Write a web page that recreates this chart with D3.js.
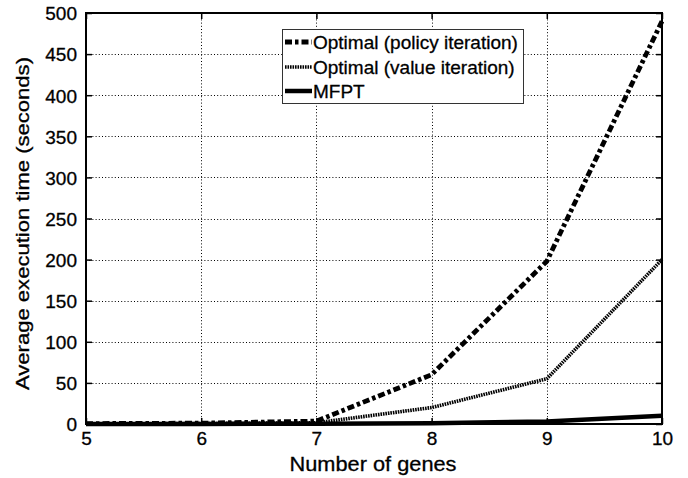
<!DOCTYPE html>
<html><head><meta charset="utf-8">
<script src="https://cdn.jsdelivr.net/npm/d3@7"></script>
<style>
html,body{margin:0;padding:0;background:#fff;}
text{font-family:"Liberation Sans",Arial,Helvetica,sans-serif;fill:#000;stroke:#000;stroke-width:0.3px;}
</style></head>
<body>
<svg id="chart" width="688" height="478"></svg>
<script>
const genes = [5, 6, 7, 8, 9, 10];
const policyIteration = [0.5, 1, 3.5, 60, 198, 490];
const valueIteration = [0.2, 0.5, 1.5, 20, 55, 200];
const mfpt = [0.05, 0.1, 0.3, 1, 3, 10];
const xTicks = [5, 6, 7, 8, 9, 10];
const yTicks = [0, 50, 100, 150, 200, 250, 300, 350, 400, 450, 500];
const seriesNames = ["Optimal (policy iteration)", "Optimal (value iteration)", "MFPT"];

const W = 688, H = 478;
const m = {left: 86, right: 26, top: 13, bottom: 54};
const svg = d3.select("#chart");
const x = d3.scaleLinear().domain([5, 10]).range([m.left, W - m.right]);
const y = d3.scaleLinear().domain([0, 500]).range([H - m.bottom, m.top]);
const x0 = m.left, x1 = W - m.right, y0 = H - m.bottom, y1 = m.top;

// grid
const grid = svg.append("g");
grid.selectAll("line.gx").data(xTicks.slice(1, -1)).join("line")
  .attr("x1", d => Math.round(x(d)) + 0.5).attr("x2", d => Math.round(x(d)) + 0.5)
  .attr("y1", y1).attr("y2", y0)
  .attr("stroke", "#000").attr("stroke-width", 1).attr("stroke-dasharray", "1,2.2");
grid.selectAll("line.gy").data(yTicks.slice(1, -1)).join("line")
  .attr("y1", d => Math.round(y(d)) + 0.5).attr("y2", d => Math.round(y(d)) + 0.5)
  .attr("x1", x0).attr("x2", x1)
  .attr("stroke", "#000").attr("stroke-width", 1).attr("stroke-dasharray", "1,2.2");

// axes with inward ticks
const tl = 6;
const axB = svg.append("g").attr("transform", `translate(0,${y0})`)
  .call(d3.axisBottom(x).tickValues(xTicks).tickSizeInner(-tl).tickSizeOuter(0).tickPadding(0).tickFormat(d3.format("d")));
const axT = svg.append("g").attr("transform", `translate(0,${y1})`)
  .call(d3.axisTop(x).tickValues(xTicks).tickSizeInner(-tl).tickSizeOuter(0).tickFormat(""));
const axL = svg.append("g").attr("transform", `translate(${x0},0)`)
  .call(d3.axisLeft(y).tickValues(yTicks).tickSizeInner(-tl).tickSizeOuter(0).tickPadding(0).tickFormat(d3.format("d")));
const axR = svg.append("g").attr("transform", `translate(${x1},0)`)
  .call(d3.axisRight(y).tickValues(yTicks).tickSizeInner(-tl).tickSizeOuter(0).tickFormat(""));
[axB, axT, axL, axR].forEach(a => {
  a.attr("font-size", null).attr("font-family", null);
  a.select(".domain").remove();
  a.selectAll(".tick line").attr("stroke", "#000").attr("stroke-width", 1.5);
});
axB.selectAll(".tick text").style("font-size", "19px").attr("y", 21).attr("dy", 0);
axL.selectAll(".tick text").style("font-size", "19px").attr("x", -9).attr("dy", "0.36em");

// series
const line = d3.line().x((d, i) => x(genes[i])).y(d => y(d));
const plot = svg.append("g");
plot.append("path").datum(valueIteration).attr("d", line)
  .attr("fill", "none").attr("stroke", "#000").attr("stroke-width", 3.6)
  .attr("stroke-dasharray", "1.6,0.9");
plot.append("path").datum(policyIteration).attr("d", line)
  .attr("fill", "none").attr("stroke", "#000").attr("stroke-width", 4.8)
  .attr("stroke-dasharray", "7,3,3.5,3");
plot.append("path").datum(mfpt).attr("d", line)
  .attr("fill", "none").attr("stroke", "#000").attr("stroke-width", 4.5);

// box
svg.append("rect").attr("x", x0).attr("y", y1).attr("width", x1 - x0).attr("height", y0 - y1)
  .attr("fill", "none").attr("stroke", "#000").attr("stroke-width", 2);

// axis titles
svg.append("text").attr("x", (x0 + x1) / 2 - 1).attr("y", 471).attr("text-anchor", "middle")
  .style("font-size", "20.5px").attr("textLength", 167).attr("lengthAdjust", "spacingAndGlyphs")
  .text("Number of genes");
svg.append("text").attr("transform", `translate(29,${(57 + 390) / 2}) rotate(-90)`)
  .attr("text-anchor", "middle").style("font-size", "19px")
  .attr("textLength", 333).attr("lengthAdjust", "spacingAndGlyphs")
  .text("Average execution time (seconds)");

// legend
const lg = svg.append("g");
lg.append("rect").attr("x", 282.5).attr("y", 29.5).attr("width", 241).attr("height", 74)
  .attr("fill", "#fff").attr("stroke", "#333").attr("stroke-width", 1);
const styles = [
  {w: 4.8, dash: "7,3,3.5,3"},
  {w: 3.6, dash: "1.6,0.9"},
  {w: 4.5, dash: null}
];
const rowsY = [49, 74, 98];
seriesNames.forEach((name, i) => {
  const ly = rowsY[i] - 7;
  const l = lg.append("line").attr("x1", 285).attr("x2", 312).attr("y1", ly).attr("y2", ly)
    .attr("stroke", "#000").attr("stroke-width", styles[i].w);
  if (styles[i].dash) l.attr("stroke-dasharray", styles[i].dash);
  lg.append("text").attr("x", 313).attr("y", rowsY[i]).style("font-size", "19px").text(name);
});
</script>
</body></html>
